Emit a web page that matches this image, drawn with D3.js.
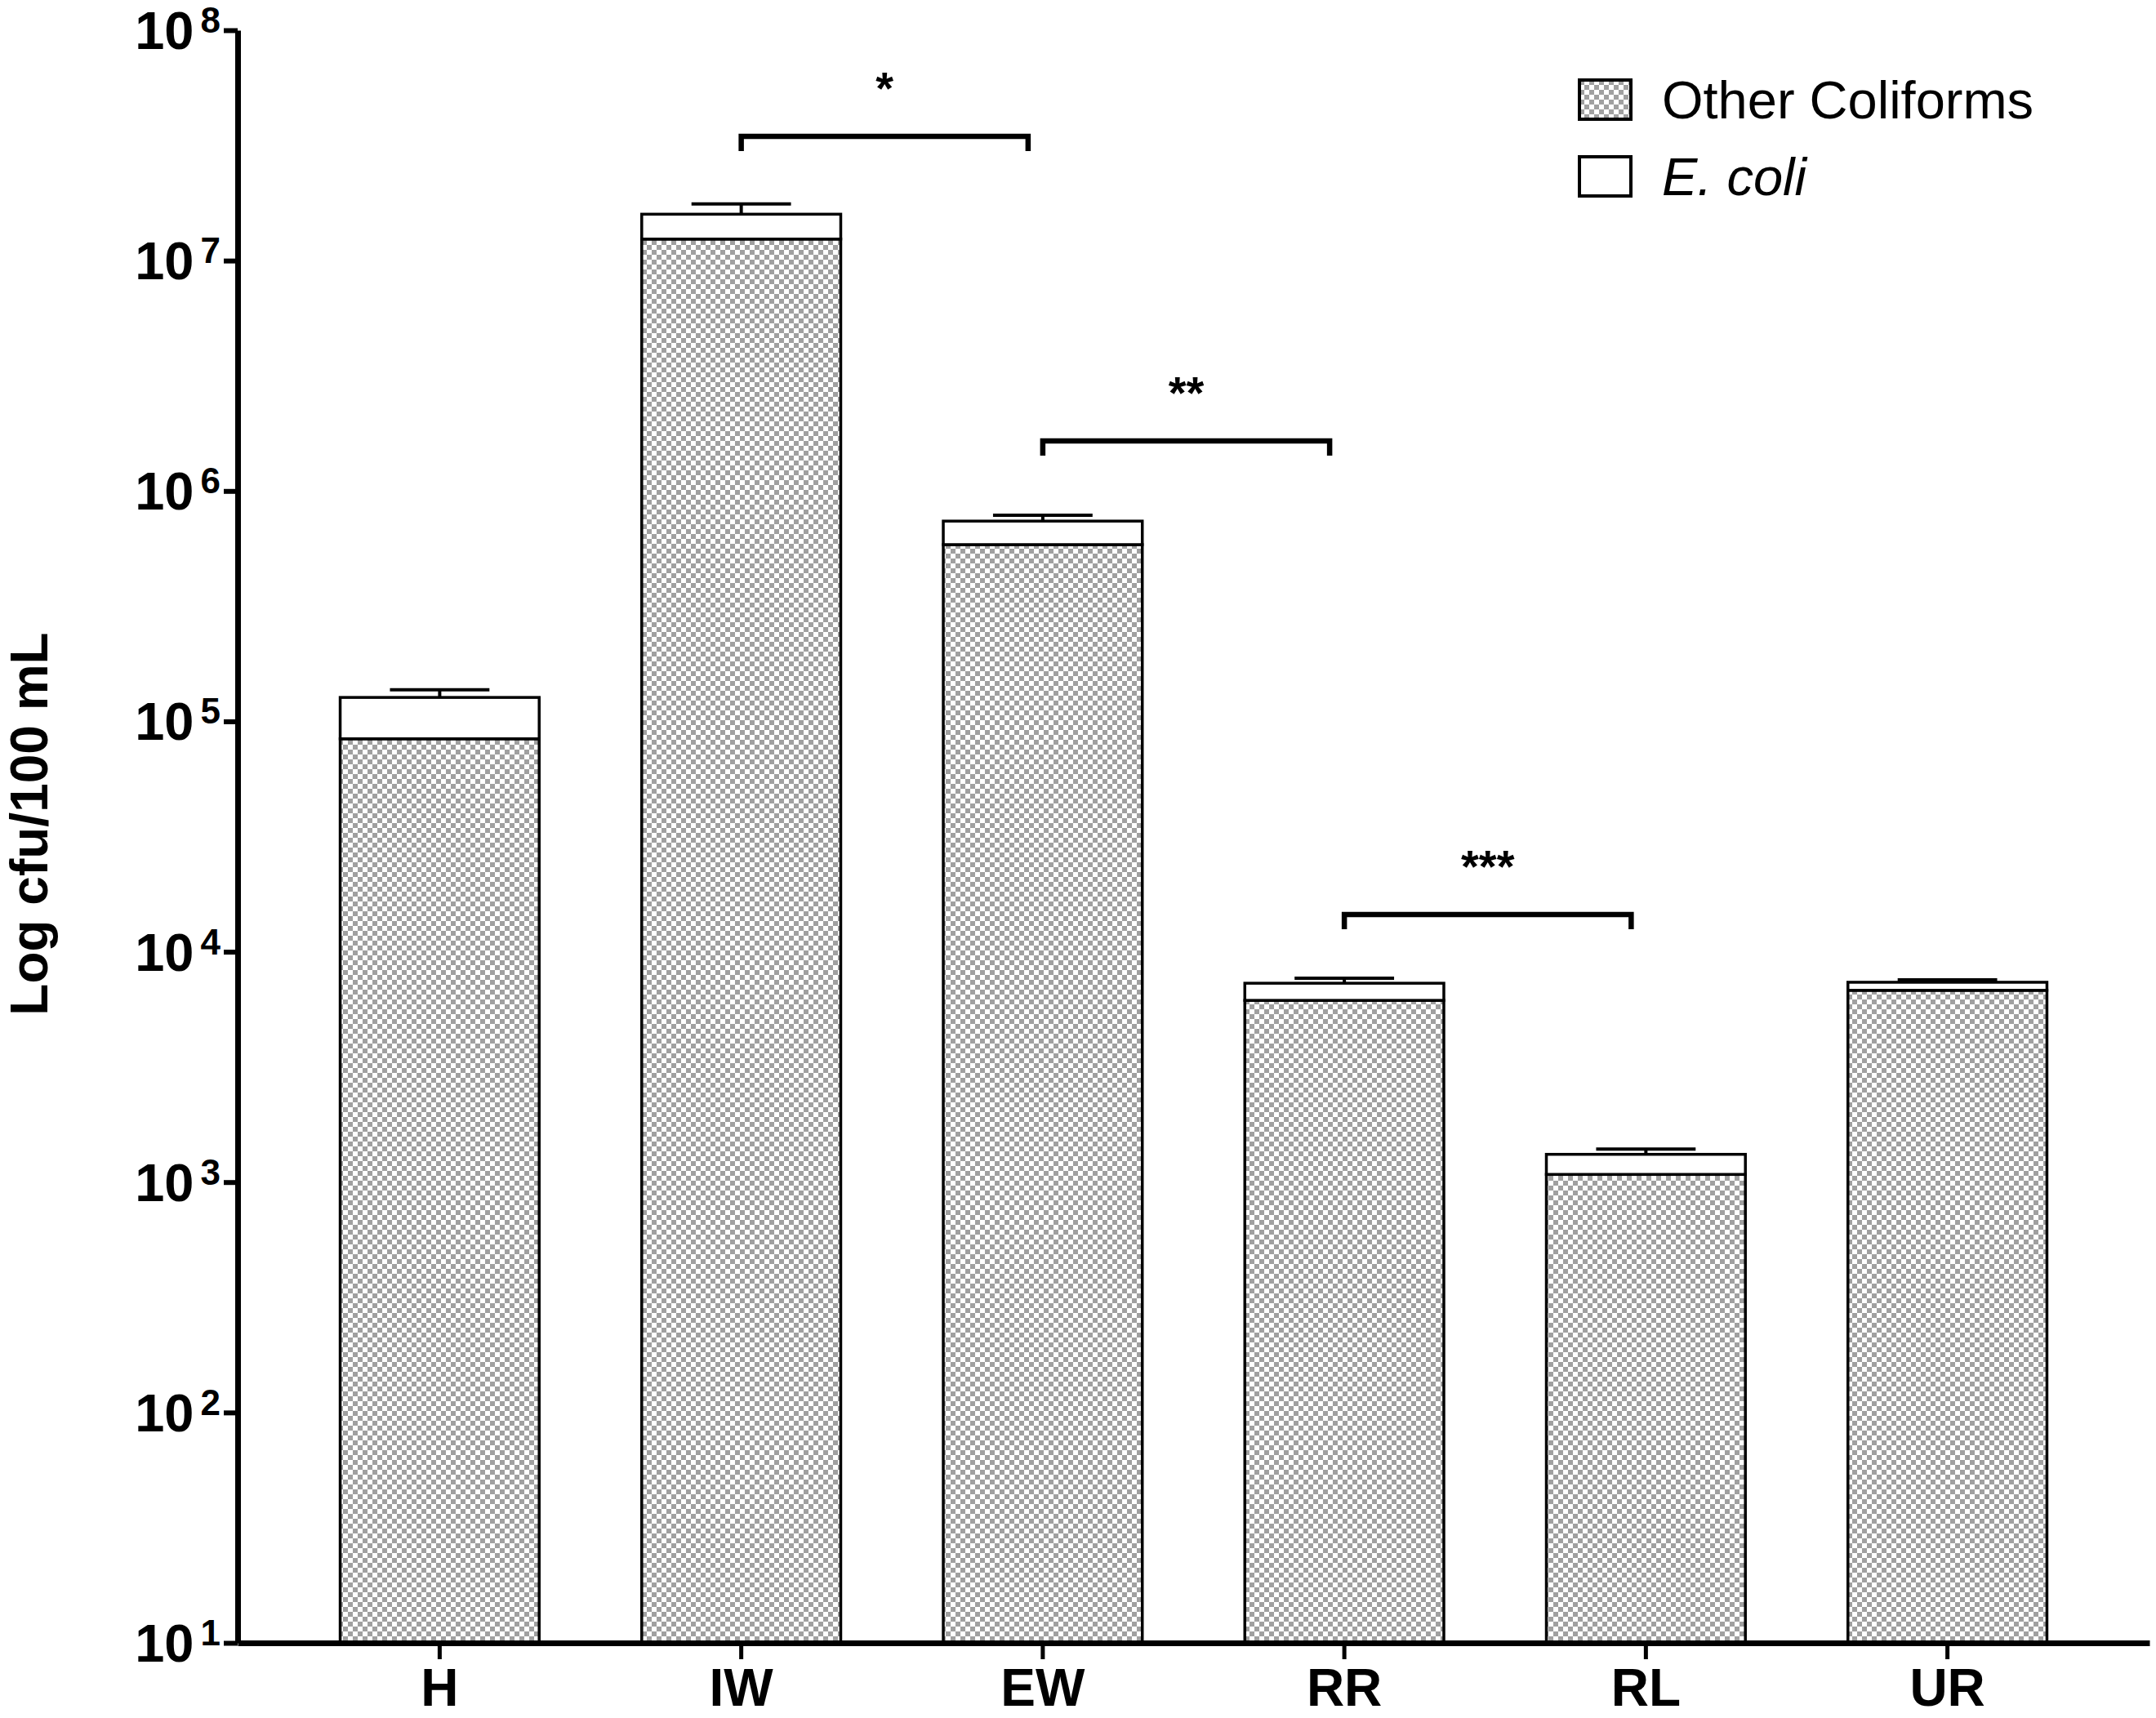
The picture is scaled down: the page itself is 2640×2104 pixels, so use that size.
<!DOCTYPE html>
<html>
<head>
<meta charset="utf-8">
<script src="https://cdn.jsdelivr.net/npm/d3@7/dist/d3.min.js"></script>
<style>
  html, body { margin: 0; padding: 0; background: #fff; }
  svg { display: block; font-family: "Liberation Sans", Arial, sans-serif; }
</style>
</head>
<body>
<svg id="chart" width="2640" height="2104"></svg>
<script>
// Sites along the sampling route
var categories = ["H", "IW", "EW", "RR", "RL", "UR"];

// cfu/100 mL (stacked: other coliforms at the bottom, E. coli on top)
var otherColiforms = [8.4e4, 1.24e7, 5.85e5, 6150, 1080, 6800];
var eColi          = [4.3e4, 3.5e6, 1.55e5, 1150, 240, 570];
// upper error on the stacked total
var totalError     = [1.0e4, 1.7e6, 4.5e4, 380, 70, 180];

// significance brackets: left site, right site, bracket level, label
var sigFrom   = ["IW", "EW", "RR"];
var sigTo     = ["EW", "RR", "RL"];
var sigLevel  = [3.46e7, 1.65e6, 1.45e4];
var sigLabels = ["*", "**", "***"];

var yTickExps = [1, 2, 3, 4, 5, 6, 7, 8];
var legendLabels = ["Other Coliforms", "E. coli"];

var svg = d3.select("#chart");

var X0 = 291, X1 = 2632, Y0 = 2012, Y1 = 37;

var x = d3.scaleBand()
  .domain(categories)
  .range([X0, X1])
  .padding(0.34);

var y = d3.scaleLog()
  .domain([10, 1e8])
  .range([Y0, Y1]);

// checker fill used by the "other coliforms" bars
var defs = svg.append("defs");
var pat = defs.append("pattern")
  .attr("id", "checker")
  .attr("patternUnits", "userSpaceOnUse")
  .attr("width", 12)
  .attr("height", 12);
pat.append("rect").attr("width", 12).attr("height", 12).attr("fill", "#fff");
pat.append("rect").attr("width", 6).attr("height", 6).attr("fill", "#a0a0a0");
pat.append("rect").attr("x", 6).attr("y", 6).attr("width", 6).attr("height", 6).attr("fill", "#a0a0a0");

var rows = categories.map(function (c, i) {
  return {
    cat: c,
    other: otherColiforms[i],
    total: otherColiforms[i] + eColi[i],
    err: totalError[i]
  };
});

// Bars
var g = svg.append("g");

g.selectAll("rect.other")
  .data(rows)
  .enter().append("rect")
  .attr("class", "other")
  .attr("x", function (d) { return x(d.cat); })
  .attr("width", x.bandwidth())
  .attr("y", function (d) { return y(d.other); })
  .attr("height", function (d) { return y(10) - y(d.other); })
  .attr("fill", "url(#checker)")
  .attr("stroke", "#000")
  .attr("stroke-width", 3.5);

g.selectAll("rect.ecoli")
  .data(rows)
  .enter().append("rect")
  .attr("class", "ecoli")
  .attr("x", function (d) { return x(d.cat); })
  .attr("width", x.bandwidth())
  .attr("y", function (d) { return y(d.total); })
  .attr("height", function (d) { return y(d.other) - y(d.total); })
  .attr("fill", "#fff")
  .attr("stroke", "#000")
  .attr("stroke-width", 3.5);

// Error bars (upper only)
var eb = g.selectAll("g.err")
  .data(rows)
  .enter().append("g")
  .attr("class", "err")
  .attr("stroke", "#000")
  .attr("stroke-width", 4);

eb.append("line")
  .attr("x1", function (d) { return x(d.cat) + x.bandwidth() / 2; })
  .attr("x2", function (d) { return x(d.cat) + x.bandwidth() / 2; })
  .attr("y1", function (d) { return y(d.total); })
  .attr("y2", function (d) { return y(d.total + d.err); });

eb.append("line")
  .attr("x1", function (d) { return x(d.cat) + x.bandwidth() / 4; })
  .attr("x2", function (d) { return x(d.cat) + x.bandwidth() * 3 / 4; })
  .attr("y1", function (d) { return y(d.total + d.err); })
  .attr("y2", function (d) { return y(d.total + d.err); });

// Axes
var yAxis = d3.axisLeft(y)
  .tickValues(yTickExps.map(function (e) { return Math.pow(10, e); }))
  .tickFormat("")
  .tickSize(17)
  .tickSizeOuter(0);

var gy = svg.append("g")
  .attr("transform", "translate(" + X0 + ",0)")
  .call(yAxis);
gy.select(".domain").attr("stroke-width", 7);
gy.selectAll(".tick line").attr("stroke-width", 6);

// tick labels as 10 with superscript exponent
yTickExps.forEach(function (e) {
  var t = svg.append("text")
    .attr("x", X0 - 21)
    .attr("y", y(Math.pow(10, e)) + 23)
    .attr("text-anchor", "end")
    .attr("font-weight", "bold")
    .attr("font-size", 65);
  t.append("tspan").text("10");
  t.append("tspan")
    .attr("dx", 8)
    .attr("dy", -20)
    .attr("font-size", 44)
    .text(e);
});

var xAxis = d3.axisBottom(x)
  .tickSize(20)
  .tickSizeOuter(0)
  .tickPadding(12);

var gx = svg.append("g")
  .attr("transform", "translate(0," + Y0 + ")")
  .call(xAxis);
gx.select(".domain").attr("stroke-width", 7);
gx.selectAll(".tick line").attr("stroke-width", 5);
gx.selectAll(".tick text")
  .attr("font-family", "\"Liberation Sans\", Arial, sans-serif")
  .attr("font-size", 64)
  .attr("font-weight", "bold")
  .attr("fill", "#000");

// Y axis title
svg.append("text")
  .attr("transform", "translate(58,1009) rotate(-90)")
  .attr("text-anchor", "middle")
  .attr("font-weight", "bold")
  .attr("font-size", 64)
  .text("Log cfu/100 mL");

// Significance brackets
sigLabels.forEach(function (lab, i) {
  var xa = x(sigFrom[i]) + x.bandwidth() / 2;
  var xb = x(sigTo[i]) + x.bandwidth() / 2 - 18;
  var yl = y(sigLevel[i]);
  svg.append("path")
    .attr("d", "M" + xa + "," + (yl + 18) + "V" + yl + "H" + xb + "V" + (yl + 18))
    .attr("fill", "none")
    .attr("stroke", "#000")
    .attr("stroke-width", 6.5);
  svg.append("text")
    .attr("x", (xa + xb) / 2)
    .attr("y", yl - 40)
    .attr("text-anchor", "middle")
    .attr("font-weight", "bold")
    .attr("font-size", 56)
    .text(lab);
});

// Legend
var legFills = ["url(#checker)", "#fff"];
var leg = svg.append("g").attr("transform", "translate(1934,98)");
legendLabels.forEach(function (lab, i) {
  leg.append("rect")
    .attr("x", 0)
    .attr("y", i * 94)
    .attr("width", 63)
    .attr("height", 48)
    .attr("fill", legFills[i])
    .attr("stroke", "#000")
    .attr("stroke-width", 4);
  leg.append("text")
    .attr("x", 101)
    .attr("y", i * 94 + 47)
    .attr("font-size", 65)
    .attr("font-style", i === 1 ? "italic" : "normal")
    .text(lab);
});
</script>
</body>
</html>
